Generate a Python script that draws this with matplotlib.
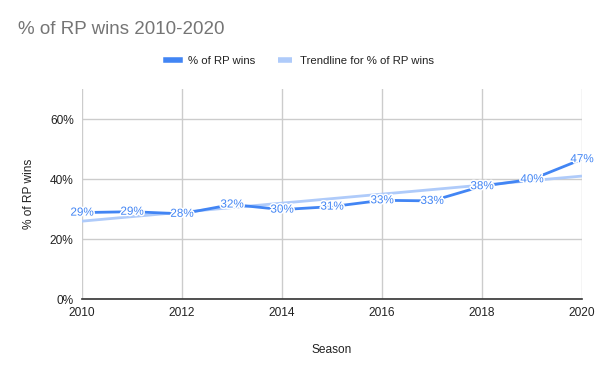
import matplotlib
matplotlib.use("Agg")
import matplotlib.pyplot as plt
import matplotlib.patheffects as pe
import numpy as np
from matplotlib.ticker import PercentFormatter

seasons = [2010, 2011, 2012, 2013, 2014, 2015, 2016, 2017, 2018, 2019, 2020]
rp_wins = [0.288, 0.291, 0.284, 0.315, 0.298, 0.308, 0.329, 0.327, 0.376, 0.399, 0.466]
x_ticks = [2010, 2012, 2014, 2016, 2018, 2020]
y_ticks = [0.0, 0.2, 0.4, 0.6]

BLUE = "#4285F4"
TREND = "#AFCBFA"

plt.rcParams["font.family"] = ["Liberation Sans", "DejaVu Sans"]

fig = plt.figure(figsize=(6.0, 3.71), dpi=100)
ax = fig.add_axes([82 / 600, 1 - 299 / 371, 500 / 600, 210 / 371])

x = np.array(seasons, dtype=float)
y = np.array(rp_wins)
slope, intercept = np.polyfit(x, y, 1)
trend_x = np.array([seasons[0], seasons[-1]], dtype=float)
ax.plot(trend_x, slope * trend_x + intercept, color=TREND, lw=2, zorder=2,
        label="Trendline for % of RP wins", solid_capstyle="butt")
ax.plot(x, y, color=BLUE, lw=2, zorder=3, label="% of RP wins")

for xi, yi in zip(seasons, rp_wins):
    ax.text(xi, yi, f"{round(yi * 100):.0f}%", ha="center", va="center",
            color=BLUE, fontsize=8.4, zorder=4,
            path_effects=[pe.withStroke(linewidth=2.2, foreground="white")])

ax.set_xlim(2010, 2020)
ax.set_ylim(0, 0.7)
ax.set_xticks(x_ticks)
ax.set_yticks(y_ticks)
ax.yaxis.set_major_formatter(PercentFormatter(1.0, decimals=0))
ax.grid(True, color="#cccccc", lw=1)
ax.set_axisbelow(True)
for side in ["top", "right", "left"]:
    ax.spines[side].set_visible(False)
ax.spines["bottom"].set_color("#333333")
ax.spines["bottom"].set_linewidth(1.2)
ax.tick_params(length=0, labelsize=8.6, colors="#222222", pad=6)

ax.set_xlabel("Season", fontsize=8.6, color="#222222", labelpad=18)
ax.set_ylabel("% of RP wins", fontsize=8.6, color="#222222", labelpad=11)

fig.text(18 / 600, 1 - 30 / 371, "% of RP wins 2010-2020", fontsize=13.5,
         color="#757575", va="center", ha="left")

handles, labels = ax.get_legend_handles_labels()
fig.legend(handles[::-1], labels[::-1], loc="center", bbox_to_anchor=(300 / 600, 1 - 61 / 371),
           ncol=2, frameon=False, fontsize=8.2, handlelength=1.2, handleheight=0.5,
           columnspacing=2.0, handletextpad=0.7, labelcolor="#222222")
for line in fig.legends[0].get_lines():
    line.set_linewidth(4)

fig.savefig("out.png", dpi=100, facecolor="white")
